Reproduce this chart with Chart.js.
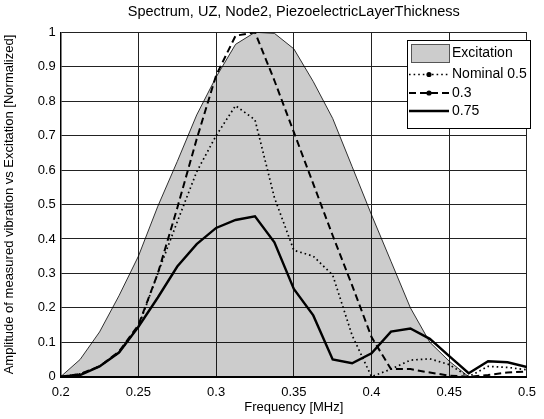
<!DOCTYPE html>
<html>
<head>
<meta charset="utf-8">
<script src="https://cdn.jsdelivr.net/npm/chart.js@4.4.1/dist/chart.umd.min.js"></script>
<style>
  html, body { margin: 0; padding: 0; background: #ffffff; }
  #wrap { width: 544px; height: 419px; position: relative; }
</style>
</head>
<body>
<div id="wrap"><canvas id="c"></canvas></div>
<script>
const titleText = 'Spectrum, UZ, Node2, PiezoelectricLayerThickness';
const xTitle = 'Frequency [MHz]';
const yTitle = 'Amplitude of measured vibration vs Excitation [Normalized]';
const seriesNames = ['Excitation', 'Nominal 0.5', '0.3', '0.75'];

const freqs = [0.2, 0.2125, 0.225, 0.2375, 0.25, 0.2625, 0.275, 0.2875, 0.3, 0.3125, 0.325, 0.3375, 0.35,
               0.3625, 0.375, 0.3875, 0.4, 0.4125, 0.425, 0.4375, 0.45, 0.4625, 0.475, 0.4875, 0.5];
const excitation = [0, 0.05, 0.13, 0.235, 0.35, 0.495, 0.625, 0.76, 0.87, 0.965, 1.0, 0.997, 0.952,
                    0.857, 0.75, 0.61, 0.47, 0.335, 0.2, 0.1, 0.045, 0, 0, 0, 0];
const nominal05 = [0, 0.008, 0.03, 0.07, 0.145, 0.3, 0.45, 0.595, 0.70, 0.787, 0.746, 0.52, 0.367,
                   0.35, 0.295, 0.12, 0, 0.022, 0.048, 0.052, 0.035, 0, 0.03, 0.027, 0.02];
const thick03 = [0, 0.008, 0.03, 0.073, 0.15, 0.30, 0.49, 0.69, 0.875, 0.99, 1.0, 0.86, 0.71,
                 0.56, 0.41, 0.265, 0.115, 0.022, 0.022, 0.012, 0.003, 0, 0.005, 0.012, 0.015];
const thick075 = [0, 0.005, 0.03, 0.07, 0.145, 0.23, 0.32, 0.385, 0.432, 0.455, 0.466, 0.39, 0.255,
                  0.178, 0.05, 0.039, 0.068, 0.131, 0.14, 0.11, 0.06, 0.01, 0.045, 0.042, 0.028];

const xTicks = [0.2, 0.25, 0.3, 0.35, 0.4, 0.45, 0.5];
const yTicks = [0, 0.1, 0.2, 0.3, 0.4, 0.5, 0.6, 0.7, 0.8, 0.9, 1];

const FONT = "'Liberation Sans', Arial, sans-serif";
const pts = arr => freqs.map((f, i) => ({x: f, y: arr[i]}));

const styles = [
  {borderColor: '#000', borderWidth: 0.8, borderDash: [], fill: 'origin', backgroundColor: 'rgba(0,0,0,0.2)', order: 4},
  {borderColor: '#000', borderWidth: 1.7, borderDash: [1.6, 3], fill: false, order: 3},
  {borderColor: '#000', borderWidth: 2, borderDash: [7, 4], fill: false, order: 2},
  {borderColor: '#000', borderWidth: 2.4, borderDash: [], fill: false, order: 1}
];
const seriesData = [excitation, nominal05, thick03, thick075];

const datasets = seriesData.map((arr, i) => Object.assign({
  label: seriesNames[i],
  data: pts(arr),
  pointRadius: 0,
  tension: 0
}, styles[i]));

const legendPlugin = {
  id: 'customLegend',
  afterDraw(chart) {
    const ctx = chart.ctx;
    const bx = 407, by = 40, bw = 123, bh = 88;
    ctx.save();
    ctx.fillStyle = '#fff';
    ctx.fillRect(bx, by, bw, bh);
    ctx.strokeStyle = '#000';
    ctx.lineWidth = 1;
    ctx.strokeRect(bx + 0.5, by + 0.5, bw, bh);
    const rows = [53.5, 74.5, 93, 111];
    ctx.font = '14px ' + FONT;
    ctx.textBaseline = 'middle';
    ctx.textAlign = 'left';
    chart.data.datasets.forEach((ds, i) => {
      const y = rows[i];
      if (i === 0) {
        ctx.fillStyle = '#cccccc';
        ctx.fillRect(411.5, 44.5, 38, 18);
        ctx.strokeStyle = '#555';
        ctx.lineWidth = 1;
        ctx.setLineDash([]);
        ctx.strokeRect(411.5, 44.5, 38, 18);
      } else {
        ctx.strokeStyle = ds.borderColor;
        ctx.lineWidth = ds.borderWidth;
        ctx.setLineDash(ds.borderDash);
        ctx.beginPath();
        ctx.moveTo(409, y);
        ctx.lineTo(449, y);
        ctx.stroke();
        ctx.setLineDash([]);
        if (i !== 3) {
          ctx.fillStyle = '#000';
          ctx.beginPath();
          ctx.arc(429, y, 2.6, 0, Math.PI * 2);
          ctx.fill();
        }
      }
      ctx.fillStyle = '#000';
      ctx.fillText(ds.label, 452, y);
    });
    ctx.restore();
  }
};

new Chart(document.getElementById('c'), {
  type: 'line',
  data: {datasets},
  plugins: [legendPlugin],
  options: {
    responsive: true,
    maintainAspectRatio: false,
    animation: false,
    layout: {padding: {left: 0, right: 9, top: 0, bottom: 0}},
    plugins: {
      legend: {display: false},
      tooltip: {enabled: false},
      title: {
        display: true,
        text: titleText,
        fullSize: false,
        color: '#000',
        font: {family: FONT, size: 14.5, weight: 'normal'},
        padding: {top: 3.5, bottom: 11.4}
      }
    },
    scales: {
      x: {
        type: 'linear',
        min: 0.2, max: 0.5,
        afterBuildTicks: s => { s.ticks = xTicks.map(v => ({value: v})); },
        afterFit: s => { s.height = 42.3; },
        ticks: {color: '#000', font: {family: FONT, size: 13}, padding: 8, maxRotation: 0,
                callback: v => String(v)},
        grid: {color: '#222', lineWidth: 1, drawTicks: false},
        border: {color: '#000', width: 2},
        title: {display: true, text: xTitle, color: '#000', font: {family: FONT, size: 13},
                padding: {top: 0, bottom: 4}}
      },
      y: {
        type: 'linear',
        min: 0, max: 1,
        afterBuildTicks: s => { s.ticks = yTicks.map(v => ({value: v})); },
        afterFit: s => { s.width = 60.7; },
        ticks: {color: '#000', font: {family: FONT, size: 13}, padding: 5,
                callback: v => String(v)},
        grid: {color: '#222', lineWidth: 1, drawTicks: false},
        border: {color: '#000', width: 1.5},
        title: {display: true, text: yTitle, color: '#000', font: {family: FONT, size: 13},
                padding: {top: 2, bottom: 0}}
      }
    }
  }
});
</script>
</body>
</html>
